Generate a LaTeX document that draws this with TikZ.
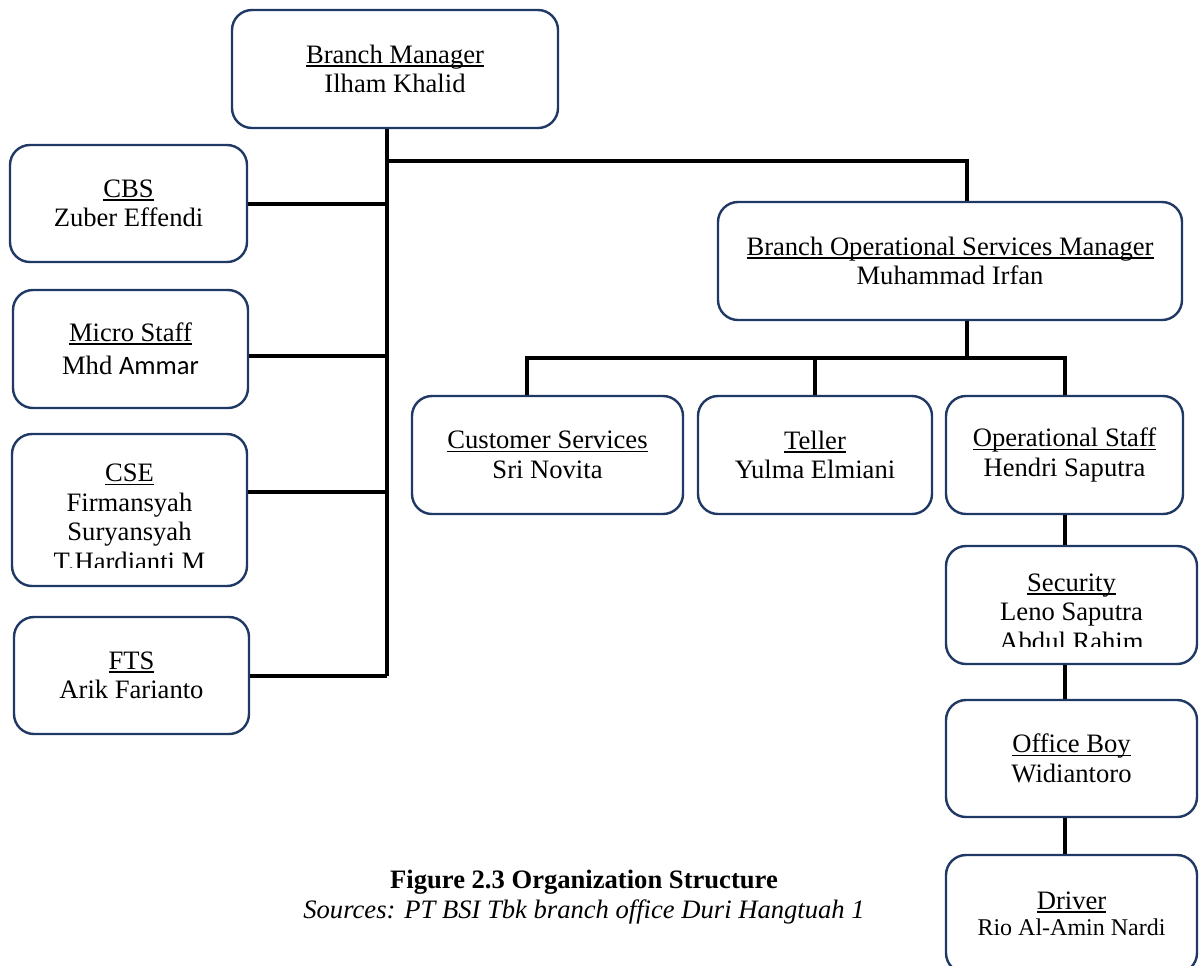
\documentclass[tikz,border=0pt]{standalone}
\usepackage{fontspec}
\setmainfont{Liberation Serif}
\newfontfamily\calibrifont{Carlito}
\definecolor{navy}{HTML}{1F3864}
% underlined role title, rule sits just under the baseline
\newcommand{\rolename}[1]{\setbox0\hbox{#1}\rlap{\rule[-1.7pt]{\wd0}{0.75pt}}\box0}

\begin{document}
\begin{tikzpicture}[x=0.5pt, y=-0.5pt,
    box/.style={draw=navy, line width=1.2pt, rounded corners=10pt, align=center,
      inner sep=0pt, font=\fontsize{13.3}{14.75}\selectfont},
    boxtext/.style={align=center, inner sep=0pt, font=\fontsize{13.3}{14.75}\selectfont},
    link/.style={line width=2pt}]

  \useasboundingbox (0,0) rectangle (1202,965);

  % --- top: branch manager ---
  \node[box, minimum width=163pt, minimum height=59pt] (bm) at (395,69)
    {\rolename{Branch Manager}\\Ilham Khalid};

  % --- left column ---
  \node[box, minimum width=118.5pt, minimum height=58.5pt] (cbs) at (128.5,203.5)
    {\rolename{CBS}\\Zuber Effendi};
  \node[box, minimum width=117.5pt, minimum height=59pt] (micro) at (130.5,349)
    {\rolename{Micro Staff}\\[2pt]Mhd {\calibrifont Ammar}};
  \node[box, minimum width=117.5pt, minimum height=76pt] (cse) at (129.5,510) {};
  \begin{scope}
    \clip (cse.north west) rectangle ([yshift=10pt]cse.south east);
    \node[boxtext] (csetext) at ([yshift=-3.75pt]cse.center)
      {\rolename{CSE}\\Firmansyah\\Suryansyah\\T.Hardianti M};
  \end{scope}
  \node[box, minimum width=117.5pt, minimum height=58.5pt] (fts) at (131.5,675.5)
    {\rolename{FTS}\\Arik Farianto};

  % --- right: operational services ---
  \node[box, minimum width=232pt, minimum height=59pt] (bosm) at (950,261)
    {\rolename{Branch Operational Services Manager}\\Muhammad Irfan};
  \node[box, minimum width=135.5pt, minimum height=59pt] (cs) at (547.5,455)
    {\rolename{Customer Services}\\Sri Novita};
  \node[box, minimum width=117pt, minimum height=59pt] (teller) at (815,455)
    {\rolename{Teller}\\Yulma Elmiani};
  \node[box, minimum width=118.5pt, minimum height=59pt] (ops) at (1064.5,455)
    {\rolename{Operational Staff}\\Hendri Saputra};
  \node[box, minimum width=125.5pt, minimum height=59pt] (security) at (1071.5,605) {};
  \begin{scope}
    \clip (security.north west) rectangle ([yshift=9.5pt]security.south east);
    \node[boxtext] (sectext) at ([yshift=-3.5pt]security.center)
      {\rolename{Security}\\Leno Saputra\\Abdul Rahim};
  \end{scope}
  \node[box, minimum width=125.5pt, minimum height=58.5pt] (officeboy) at (1071.5,758.5)
    {\rolename{Office Boy}\\Widiantoro};
  \node[box, minimum width=125.5pt, minimum height=59pt] (driver) at (1071.5,914)
    {\rolename{Driver}\\[-1.5pt]{\fontsize{12}{13}\selectfont Rio Al-Amin Nardi}};

  % --- caption ---
  \node[boxtext] (caption) at (584,897)
    {\textbf{Figure 2.3 Organization Structure}\\\textit{Sources: PT BSI Tbk branch office Duri Hangtuah 1}};

  % --- connectors ---
  \coordinate (bmfoot) at ([xshift=-4pt]bm.south);
  \coordinate (split) at ([yshift=-16pt]bmfoot);
  \coordinate (bosmtop) at ([xshift=8.5pt]bosm.north);
  \coordinate (bosmfoot) at ([xshift=8.5pt]bosm.south);
  \coordinate (rail) at ([yshift=-18.5pt]bosmfoot);

  \draw[link] (bmfoot) -- (bmfoot |- fts.east);
  \draw[link] (cbs.east) -- (cbs.east -| bmfoot);
  \draw[link] ([yshift=-3.5pt]micro.east) -- ([yshift=-3.5pt]micro.east -| bmfoot);
  \draw[link] ([yshift=9pt]cse.east) -- ([yshift=9pt]cse.east -| bmfoot);
  \draw[link] (fts.east) -- (fts.east -| bmfoot);
  \draw[link] (split) -| (bosmtop);

  \draw[link] (bosmfoot) -- (rail);
  \draw[link] ([xshift=-10.25pt]cs.north) |- (rail) -| (ops.north);
  \draw[link] (teller.north) -- (teller.north |- rail);
  \draw[link] (ops.south) -- (ops.south |- security.north);
  \draw[link] (ops.south |- security.south) -- (ops.south |- officeboy.north);
  \draw[link] (ops.south |- officeboy.south) -- (ops.south |- driver.north);

\end{tikzpicture}
\end{document}
